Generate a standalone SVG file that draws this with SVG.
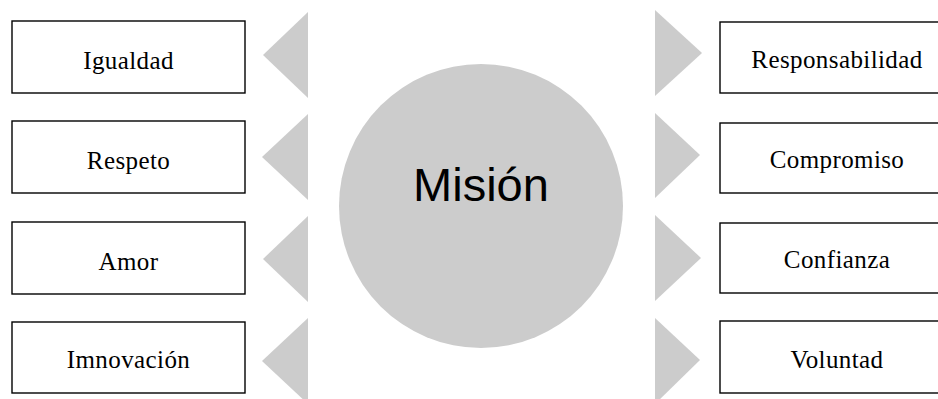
<svg xmlns="http://www.w3.org/2000/svg" width="938" height="399" viewBox="0 0 938 399">
<style>
.box{fill:#fff;stroke:#000;stroke-width:1.4}
.tri{fill:#cccccc}
.lbl{font-family:"Liberation Serif","Times New Roman",serif;font-size:25px;letter-spacing:0.4px;fill:#000;text-anchor:middle}
.big{font-family:"Liberation Sans",Arial,sans-serif;font-size:47px;fill:#000;text-anchor:middle}
</style>
<rect width="938" height="399" fill="#fff"/>
<g id="center">
<circle cx="481" cy="206" r="142" fill="#cccccc"/>
<text class="big" x="481" y="201">Misión</text>
</g>
<g id="connectors">
<polygon class="tri" points="308,12 308,98 263,55"/>
<polygon class="tri" points="308,114 308,200 262,157"/>
<polygon class="tri" points="308,216 308,302 263,259"/>
<polygon class="tri" points="308,318 308,404 262,361"/>
<polygon class="tri" points="655,10 655,96 702,53"/>
<polygon class="tri" points="655,113 655,198 700,155"/>
<polygon class="tri" points="655,215 655,301 701,258"/>
<polygon class="tri" points="655,318 655,404 700,360"/>
</g>
<g id="igualdad"><rect class="box" x="12" y="21" width="233" height="72"/><text class="lbl" x="128.5" y="69">Igualdad</text></g>
<g id="respeto"><rect class="box" x="12" y="121" width="233" height="72"/><text class="lbl" x="128.5" y="169">Respeto</text></g>
<g id="amor"><rect class="box" x="12" y="222" width="233" height="72"/><text class="lbl" x="128.5" y="270">Amor</text></g>
<g id="imnovacion"><rect class="box" x="12" y="322" width="233" height="71"/><text class="lbl" x="128.5" y="368">Imnovación</text></g>
<g id="responsabilidad"><rect class="box" x="720" y="22" width="234" height="71"/><text class="lbl" x="837" y="68">Responsabilidad</text></g>
<g id="compromiso"><rect class="box" x="720" y="123" width="234" height="70"/><text class="lbl" x="837" y="168">Compromiso</text></g>
<g id="confianza"><rect class="box" x="720" y="223" width="234" height="70"/><text class="lbl" x="837" y="268">Confianza</text></g>
<g id="voluntad"><rect class="box" x="720" y="321" width="234" height="72"/><text class="lbl" x="837" y="368">Voluntad</text></g>
</svg>
